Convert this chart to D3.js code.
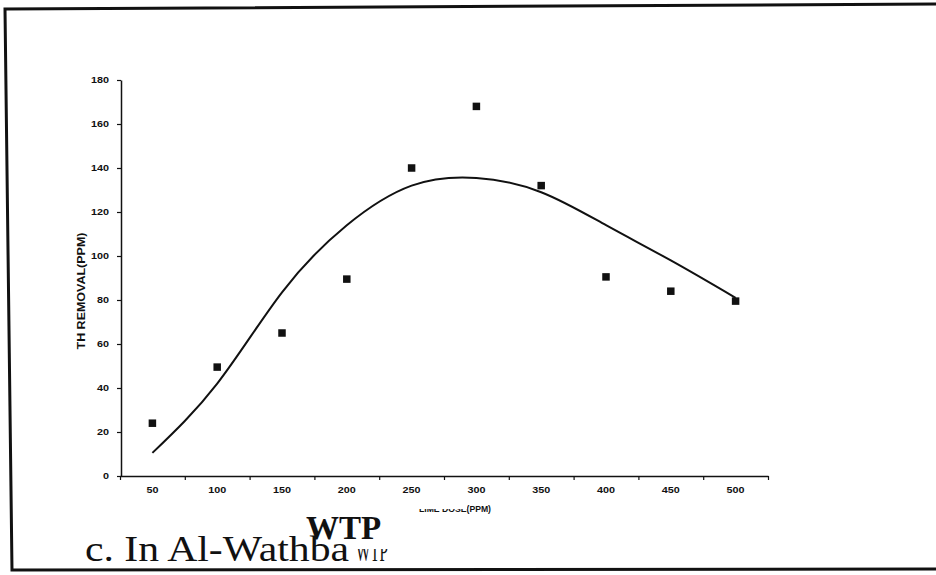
<!DOCTYPE html>
<html>
<head>
<meta charset="utf-8">
<script src="https://cdn.jsdelivr.net/npm/d3@7"></script>
<style>
  body { margin: 0; background: #fff; }
  .tick text { font-family: "Liberation Sans", Arial, sans-serif; font-weight: bold; font-size: 9px; fill: #111; }
</style>
</head>
<body>
<svg id="chart" width="936" height="575" viewBox="0 0 936 575"></svg>
<script>
// data
const limeDose = ["50", "100", "150", "200", "250", "300", "350", "400", "450", "500"]
const thRemoval = [24, 49.5, 65, 89.5, 140, 168, 132, 90.5, 84, 79.5]
// polynomial trend line as drawn in the figure (read at each dose)
const trendValues = [10.5, 42, 83.5, 114, 132, 135.5, 129, 114, 98, 81]
const yTicks = [0, 20, 40, 60, 80, 100, 120, 140, 160, 180]

const svg = d3.select("#chart")

// page frame (scan is slightly skewed)
svg.append("path")
    .attr("d", "M936,4 L5,9 L12,570 L936,569")
    .attr("fill", "none")
    .attr("stroke", "#111")
    .attr("stroke-width", 3)

const plotLeft = 121, plotRight = 768, plotTop = 80, plotBottom = 476

const x = d3.scaleBand()
    .domain(limeDose)
    .range([plotLeft - 1, plotRight])
const xEdges = d3.scaleLinear()
    .domain([0, limeDose.length])
    .range([plotLeft - 1, plotRight])
const y = d3.scaleLinear()
    .domain([0, 180])
    .range([plotBottom, plotTop])

// y axis
const yAxis = svg.append("g")
    .attr("transform", `translate(${plotLeft},0)`)
    .call(d3.axisLeft(y).tickValues(yTicks).tickSize(4).tickSizeOuter(0).tickPadding(6))
yAxis.select(".domain").attr("stroke", "#111").attr("stroke-width", 1.5)
yAxis.selectAll(".tick line").attr("stroke", "#111").attr("stroke-width", 1.2)
yAxis.selectAll(".tick text").attr("transform", "scale(1.2,1)")

// x axis: tick marks sit between the categories
const xAxisTicks = svg.append("g")
    .attr("transform", `translate(0,${plotBottom})`)
    .call(d3.axisBottom(xEdges).tickValues(d3.range(limeDose.length + 1)).tickFormat("").tickSize(4).tickSizeOuter(0))
xAxisTicks.select(".domain").attr("stroke", "#111").attr("stroke-width", 1.5)
xAxisTicks.selectAll(".tick line").attr("stroke", "#111").attr("stroke-width", 1.2)

const xAxisLabels = svg.append("g")
    .attr("transform", `translate(0,${plotBottom})`)
    .call(d3.axisBottom(x).tickSize(0).tickPadding(11))
xAxisLabels.select(".domain").remove()
xAxisLabels.selectAll(".tick text").attr("transform", "scale(1.2,1)")

// axis titles
svg.append("text")
    .attr("transform", "translate(85,291) rotate(-90)")
    .attr("text-anchor", "middle")
    .attr("font-family", "Liberation Sans, Arial, sans-serif")
    .attr("font-weight", "bold")
    .attr("font-size", 10.5)
    .attr("textLength", 117)
    .attr("lengthAdjust", "spacingAndGlyphs")
    .attr("fill", "#111")
    .text("TH REMOVAL(PPM)")

svg.append("text")
    .attr("x", 455)
    .attr("y", 512)
    .attr("text-anchor", "middle")
    .attr("font-family", "Liberation Sans, Arial, sans-serif")
    .attr("font-weight", "bold")
    .attr("font-size", 9.5)
    .attr("textLength", 72)
    .attr("lengthAdjust", "spacingAndGlyphs")
    .attr("fill", "#111")
    .text("LIME DOSE(PPM)")
// the scan cuts off the top of "LIME DOSE"
svg.append("rect")
    .attr("x", 415).attr("y", 499).attr("width", 52).attr("height", 10)
    .attr("fill", "#fff")

// trend line
const line = d3.line()
    .x((d, i) => x(limeDose[i]) + x.bandwidth() / 2)
    .y(d => y(d))
    .curve(d3.curveNatural)
svg.append("path")
    .datum(trendValues)
    .attr("d", line)
    .attr("fill", "none")
    .attr("stroke", "#111")
    .attr("stroke-width", 2)

// measured points
svg.append("g")
    .selectAll("rect")
    .data(thRemoval)
    .enter()
    .append("rect")
    .attr("x", (d, i) => x(limeDose[i]) + x.bandwidth() / 2 - 3.75)
    .attr("y", d => y(d) - 3.75)
    .attr("width", 7.5)
    .attr("height", 7.5)
    .attr("fill", "#111")

// caption
svg.append("text")
    .attr("x", 85)
    .attr("y", 561)
    .attr("font-family", "Liberation Serif, Times New Roman, serif")
    .attr("font-size", 36)
    .attr("textLength", 264)
    .attr("lengthAdjust", "spacingAndGlyphs")
    .attr("fill", "#111")
    .text("c. In Al-Wathba")

// original word under the pasted "WTP", mostly covered
svg.append("text")
    .attr("x", 356)
    .attr("y", 561)
    .attr("font-family", "Liberation Serif, Times New Roman, serif")
    .attr("font-size", 30)
    .attr("textLength", 32)
    .attr("lengthAdjust", "spacingAndGlyphs")
    .attr("fill", "#111")
    .text("WTP")
svg.append("rect")
    .attr("x", 352).attr("y", 515).attr("width", 45).attr("height", 34)
    .attr("fill", "#fff")

svg.append("text")
    .attr("x", 306)
    .attr("y", 539)
    .attr("font-family", "Liberation Serif, Times New Roman, serif")
    .attr("font-weight", "bold")
    .attr("font-size", 33)
    .attr("fill", "#111")
    .text("WTP")
</script>
</body>
</html>
